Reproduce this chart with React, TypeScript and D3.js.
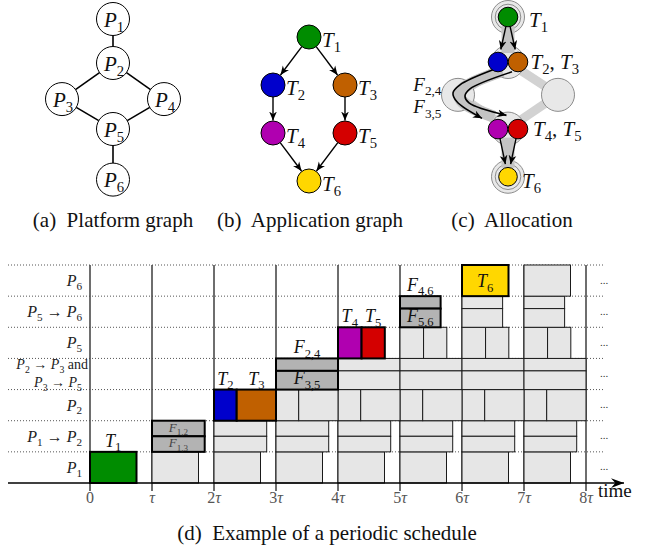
import React from "react";
import * as d3 from "d3";

const FONT = "'Liberation Serif', 'Times New Roman', 'DejaVu Serif', serif";

// ---------- (a) platform graph ----------
const PROCESSORS = ["P_1", "P_2", "P_3", "P_4", "P_5", "P_6"];
const PROC_COL = [0, 0, -1, 1, 0, 0];
const PROC_LEVEL_A = [0, 1, 1.82, 1.82, 2.5, 3.65];
const PROC_LEVEL_C = [0, 1, 1.73, 1.73, 2.48, 3.55];
const LINKS: [number, number][] = [[0, 1], [1, 2], [1, 3], [2, 4], [3, 4], [4, 5]];

// ---------- (b) application graph ----------
const TASKS = ["T_1", "T_2", "T_3", "T_4", "T_5", "T_6"];
const TASK_COL = [0, -1, 1, -1, 1, 0];
const TASK_LEVEL = [0, 1, 1, 2, 2, 3];
const DEPENDENCIES: [number, number][] = [[0, 1], [0, 2], [1, 3], [2, 4], [3, 5], [4, 5]];

// ---------- (c) allocation: processor of each task ----------
const TASK_PROC = [0, 1, 1, 4, 4, 5];
const USED_LINKS: [number, number][] = [[0, 1], [4, 5]];

// ---------- (d) periodic schedule ----------
const PERIOD_LABELS = ["0", "τ", "2τ", "3τ", "4τ", "5τ", "6τ", "7τ", "8τ"];
const LAST_PERIOD = 7;
const RESOURCES = [
  "P_1",
  "P_1 → P_2",
  "P_2",
  "P_2 → P_3 and\nP_3 → P_5",
  "P_5",
  "P_5 → P_6",
  "P_6",
];
const OPS = ["T_1", "F_{1,2}", "F_{1,3}", "T_2", "T_3", "F_{2,4}", "F_{3,5}", "T_4", "T_5", "F_{4,6}", "F_{5,6}", "T_6"];
const OP_RESOURCE = [0, 1, 1, 2, 2, 3, 3, 4, 4, 5, 5, 6];
const OP_FIRST_PERIOD = [0, 1, 1, 2, 2, 3, 3, 4, 4, 5, 5, 6];
const OP_START = [0, 0, 0, 0, 0.366, 0, 0, 0, 0.38, 0, 0, 0];
const OP_LENGTH = [0.75, 0.85, 0.85, 0.366, 0.634, 1, 1, 0.38, 0.375, 0.655, 0.655, 0.75];
const OP_SHARE = [1, 0.5, 0.5, 1, 1, 0.4, 0.6, 1, 1, 0.4, 0.6, 1];

// ---------- styles ----------
const TASK_COLOR: Record<string, string> = {
  T_1: "#008c00",
  T_2: "#0000cc",
  T_3: "#c06000",
  T_4: "#b000b0",
  T_5: "#d40000",
  T_6: "#ffd700",
};
const COMM_FILL = "#b3b3b3";
const COPY_FILL = "#e6e6e6";
const LABEL_INSIDE = new Set(["F_{1,2}", "F_{1,3}", "F_{3,5}", "F_{5,6}", "T_6"]);
const LABEL_SMALL = new Set(["F_{1,2}", "F_{1,3}"]);

type Span = { text: string; italic: boolean; sub: boolean };

function parseMath(s: string): Span[] {
  const out: Span[] = [];
  const pushRun = (run: string) => {
    const re = /([A-Za-z\u0370-\u03ff]+)|([^A-Za-z\u0370-\u03ff]+)/g;
    let m: RegExpExecArray | null;
    while ((m = re.exec(run))) {
      if (m[1]) {
        const w = m[1];
        const upright = w.length > 1 && /^[a-z]+$/.test(w);
        out.push({ text: w, italic: !upright, sub: false });
      } else out.push({ text: m[2], italic: false, sub: false });
    }
  };
  let buf = "";
  let i = 0;
  while (i < s.length) {
    const c = s[i];
    if (c === "_") {
      if (buf) {
        pushRun(buf);
        buf = "";
      }
      let sub: string;
      if (s[i + 1] === "{") {
        const j = s.indexOf("}", i);
        sub = s.slice(i + 2, j);
        i = j + 1;
      } else {
        sub = s[i + 1];
        i += 2;
      }
      out.push({ text: sub, italic: false, sub: true });
    } else {
      buf += c;
      i++;
    }
  }
  if (buf) pushRun(buf);
  return out;
}

function MathText(props: {
  s: string;
  x: number;
  y: number;
  size: number;
  anchor?: "start" | "middle" | "end";
  fill?: string;
}) {
  const { s, x, y, size, anchor = "start", fill = "#111" } = props;
  const spans = parseMath(s);
  let cur = 0;
  const drop = size * 0.24;
  return (
    <text
      x={x}
      y={y}
      fontSize={size}
      textAnchor={anchor}
      fill={fill}
      fontFamily={FONT}
      style={{ whiteSpace: "pre" }}
    >
      {spans.map((sp, k) => {
        const target = sp.sub ? drop : 0;
        const dy = target - cur;
        cur = target;
        return (
          <tspan
            key={k}
            dy={dy !== 0 ? dy : undefined}
            fontSize={sp.sub ? size * 0.7 : undefined}
            fontStyle={sp.italic ? "italic" : "normal"}
          >
            {sp.text}
          </tspan>
        );
      })}
    </text>
  );
}

function shorten(a: [number, number], b: [number, number], ra: number, rb: number) {
  const dx = b[0] - a[0];
  const dy = b[1] - a[1];
  const len = Math.hypot(dx, dy);
  const ux = dx / len;
  const uy = dy / len;
  return {
    x1: a[0] + ux * ra,
    y1: a[1] + uy * ra,
    x2: b[0] - ux * rb,
    y2: b[1] - uy * rb,
  };
}

export default function App() {
  // ----- (a) -----
  const axA = d3.scaleLinear().domain([-1, 1]).range([62, 164]);
  const ayA = d3.scaleLinear().domain([0, 1]).range([19, 63]);
  const rA = 16.5;
  const posA = PROCESSORS.map((_, i) => [axA(PROC_COL[i]), ayA(PROC_LEVEL_A[i])] as [number, number]);

  // ----- (b) -----
  const axB = d3.scaleLinear().domain([-1, 1]).range([273, 345]);
  const ayB = d3.scaleLinear().domain([0, 1]).range([37, 85]);
  const rB = 12;
  const posB = TASKS.map((_, i) => [axB(TASK_COL[i]), ayB(TASK_LEVEL[i])] as [number, number]);

  // ----- (c) -----
  const axC = d3.scaleLinear().domain([-1, 1]).range([458, 558]);
  const ayC = d3.scaleLinear().domain([0, 1]).range([17, 62]);
  const rC = 16.5;
  const rT = 9.8;
  const posC = PROCESSORS.map((_, i) => [axC(PROC_COL[i]), ayC(PROC_LEVEL_C[i])] as [number, number]);
  const taskC = TASKS.map((_, i) => {
    const p = TASK_PROC[i];
    const mates = TASK_PROC.map((q, j) => (q === p ? j : -1)).filter((j) => j >= 0);
    const k = mates.indexOf(i);
    const off = (k - (mates.length - 1) / 2) * 20;
    return [posC[p][0] + off, posC[p][1] + (p === 4 ? 0.5 : 0)] as [number, number];
  });
  const p3 = posC[2];
  const rel = (pts: [number, number][]) => pts.map(([dx, dy]) => [p3[0] + dx, p3[1] + dy] as [number, number]);
  const routeOuter = rel([[35, -25], [2, -10], [-5, -2], [-1, 7], [24, 23.5]]);
  const routeInner = rel([[54, -23], [12, -6], [7, 1], [11, 8], [48.5, 20.5]]);
  const routeMid = routeOuter.map((p, i) => [(p[0] + routeInner[i][0]) / 2, (p[1] + routeInner[i][1]) / 2] as [number, number]);
  const curve = d3.line().curve(d3.curveCatmullRom.alpha(0.5));

  // ----- (d) -----
  const x = d3.scaleLinear().domain([0, 8]).range([90, 586]);
  const rowIds = RESOURCES.map((_, i) => String(i));
  const y = d3.scaleBand().domain([...rowIds].reverse()).range([265, 483]).paddingInner(0);
  const bw = y.bandwidth();
  const shareTop: number[] = OPS.map((_, i) => {
    let t = 0;
    for (let j = 0; j < i; j++) if (OP_RESOURCE[j] === OP_RESOURCE[i] && OP_SHARE[j] < 1) t += OP_SHARE[j];
    return OP_SHARE[i] < 1 ? t : 0;
  });
  const blocks: { op: number; period: number; x0: number; x1: number; y0: number; y1: number; first: boolean }[] = [];
  OPS.forEach((_, i) => {
    for (let p = OP_FIRST_PERIOD[i]; p <= LAST_PERIOD; p++) {
      const y0 = (y(String(OP_RESOURCE[i])) as number) + bw * shareTop[i];
      blocks.push({
        op: i,
        period: p,
        x0: x(p + OP_START[i]),
        x1: x(p + OP_START[i] + OP_LENGTH[i]),
        y0,
        y1: y0 + bw * OP_SHARE[i],
        first: p === OP_FIRST_PERIOD[i],
      });
    }
  });
  const gridLines = d3.range(RESOURCES.length).map((i) => y(String(i)) as number);

  return (
    <svg
      width={645}
      height={552}
      style={{ position: "absolute", left: 0, top: 0, background: "#fff" }}
      fontFamily={FONT}
    >
      <defs>
        <marker
          id="arr"
          viewBox="-10 -5 10 10"
          refX={0}
          refY={0}
          markerWidth={9}
          markerHeight={9}
          markerUnits="userSpaceOnUse"
          orient="auto"
        >
          <path d="M0,0 L-10,-4.3 L-7,0 L-10,4.3 Z" fill="#000" />
        </marker>
        <marker
          id="axisArr"
          viewBox="-12 -5 12 10"
          refX={0}
          refY={0}
          markerWidth={13}
          markerHeight={11}
          markerUnits="userSpaceOnUse"
          orient="auto"
        >
          <path d="M0,0 L-12,-4.5 L-8,0 L-12,4.5 Z" fill="#000" />
        </marker>
      </defs>

      {/* (a) platform graph */}
      <g>
        {LINKS.map(([a, b], i) => {
          const l = shorten(posA[a], posA[b], rA, rA);
          return <line key={i} {...l} stroke="#000" strokeWidth={1.6} />;
        })}
        {PROCESSORS.map((p, i) => (
          <g key={p}>
            <circle cx={posA[i][0]} cy={posA[i][1]} r={rA} fill="#fff" stroke="#000" strokeWidth={1} />
            <MathText s={p} x={posA[i][0] + 1} y={posA[i][1] + 7.5} size={21} anchor="middle" />
          </g>
        ))}
        <text x={113} y={227} fontSize={21} textAnchor="middle" fill="#111" style={{ whiteSpace: "pre" }}>
          (a)  Platform graph
        </text>
      </g>

      {/* (b) application graph */}
      <g>
        {DEPENDENCIES.map(([a, b], i) => {
          const l = shorten(posB[a], posB[b], rB, rB + 0.5);
          return <line key={i} {...l} stroke="#000" strokeWidth={1.4} markerEnd="url(#arr)" />;
        })}
        {TASKS.map((t, i) => (
          <g key={t}>
            <circle cx={posB[i][0]} cy={posB[i][1]} r={rB} fill={TASK_COLOR[t]} stroke="#000" strokeWidth={1} />
            <MathText s={t} x={posB[i][0] + rB + 1} y={posB[i][1] + 9.5} size={21} />
          </g>
        ))}
        <text x={310} y={227} fontSize={21} textAnchor="middle" fill="#111" style={{ whiteSpace: "pre" }}>
          (b)  Application graph
        </text>
      </g>

      {/* (c) allocation */}
      <g>
        {LINKS.map(([a, b], i) => (
          <line
            key={i}
            x1={posC[a][0]}
            y1={posC[a][1]}
            x2={posC[b][0]}
            y2={posC[b][1]}
            stroke="#d2d2d2"
            strokeWidth={9}
          />
        ))}
        {PROCESSORS.map((p, i) => (
          <g key={p}>
            <circle cx={posC[i][0]} cy={posC[i][1]} r={rC} fill="#e8e8e8" stroke="#8c8c8c" strokeWidth={1} />
            {(i === 0 || i === 5) && (
              <circle cx={posC[i][0]} cy={posC[i][1]} r={12.8} fill="none" stroke="#8c8c8c" strokeWidth={1} />
            )}
          </g>
        ))}
        {USED_LINKS.map(([a, b], i) => (
          <line
            key={i}
            {...shorten(posC[a], posC[b], 9, 9)}
            stroke="#c4c4c4"
            strokeWidth={13}
          />
        ))}
        <path d={curve(routeMid) || ""} fill="none" stroke="#c4c4c4" strokeWidth={12} strokeLinejoin="round" />
        {DEPENDENCIES.filter(([a, b]) => TASK_PROC[a] !== 1 || TASK_PROC[b] !== 4).map(([a, b], i) => {
          const l = shorten(taskC[a], taskC[b], rT, rT + 3);
          return <line key={i} {...l} stroke="#000" strokeWidth={1.4} markerEnd="url(#arr)" />;
        })}
        <path d={curve(routeOuter) || ""} fill="none" stroke="#000" strokeWidth={1.6} markerEnd="url(#arr)" />
        <path d={curve(routeInner) || ""} fill="none" stroke="#000" strokeWidth={1.6} markerEnd="url(#arr)" />
        {TASKS.map((t, i) => (
          <circle
            key={t}
            cx={taskC[i][0]}
            cy={taskC[i][1]}
            r={i === 5 ? 9.3 : rT}
            fill={TASK_COLOR[t]}
            stroke="#000"
            strokeWidth={1}
          />
        ))}
        <MathText s="T_1" x={posC[0][0] + 21} y={posC[0][1] + 9.5} size={21} />
        <MathText s="T_2, T_3" x={posC[1][0] + 22.5} y={posC[1][1] + 6.5} size={21} />
        <MathText s="T_4, T_5" x={posC[4][0] + 25} y={posC[4][1] + 7.5} size={21} />
        <MathText s="T_6" x={posC[5][0] + 14} y={posC[5][1] + 11} size={21} />
        <MathText s="F_{2,4}" x={posC[2][0] - rC} y={posC[2][1] - 4} size={19} anchor="end" />
        <MathText s="F_{3,5}" x={posC[2][0] - rC} y={posC[2][1] + 18.5} size={19} anchor="end" />
        <text x={512} y={227} fontSize={21} textAnchor="middle" fill="#111" style={{ whiteSpace: "pre" }}>
          (c)  Allocation
        </text>
      </g>

      {/* (d) periodic schedule */}
      <g>
        {gridLines.map((gy, i) => (
          <line key={i} x1={8} x2={604} y1={gy} y2={gy} stroke="#555" strokeWidth={1} strokeDasharray="1 2" />
        ))}
        {PERIOD_LABELS.map((lab, k) => (
          <line key={lab} x1={x(k)} x2={x(k)} y1={265} y2={491} stroke="#4a4a4a" strokeWidth={1.6} />
        ))}
        {blocks
          .filter((b) => !b.first)
          .map((b, i) => (
            <rect
              key={"c" + i}
              x={b.x0}
              y={b.y0}
              width={b.x1 - b.x0}
              height={b.y1 - b.y0}
              fill={COPY_FILL}
              stroke="#1a1a1a"
              strokeWidth={1}
            />
          ))}
        {blocks
          .filter((b) => b.first)
          .map((b, i) => {
            const name = OPS[b.op];
            return (
              <rect
                key={"f" + i}
                x={b.x0}
                y={b.y0}
                width={b.x1 - b.x0}
                height={b.y1 - b.y0}
                fill={TASK_COLOR[name] || COMM_FILL}
                stroke="#000"
                strokeWidth={2}
              />
            );
          })}
        {blocks
          .filter((b) => b.first)
          .map((b, i) => {
            const name = OPS[b.op];
            const cx = (b.x0 + b.x1) / 2;
            const h = b.y1 - b.y0;
            const inside = LABEL_INSIDE.has(name);
            const small = LABEL_SMALL.has(name);
            const ly = inside ? b.y1 - Math.max(4, h * 0.28) : b.y0 - 5;
            return (
              <MathText
                key={"l" + i}
                s={name}
                x={cx}
                y={ly}
                size={small ? 13 : 18}
                anchor="middle"
                fill={small ? "#444" : "#111"}
              />
            );
          })}
        {/* axis */}
        <line x1={8} x2={624} y1={483} y2={483} stroke="#000" strokeWidth={1.6} markerEnd="url(#axisArr)" />
        {PERIOD_LABELS.map((lab, k) => (
          <MathText key={lab} s={lab} x={x(k)} y={503} size={16} anchor="middle" fill="#555" />
        ))}
        <text x={598} y={497} fontSize={19} fill="#111">
          time
        </text>
        {RESOURCES.map((r, i) => {
          const top = y(String(i)) as number;
          const lines = r.split("\n");
          if (lines.length === 1)
            return <MathText key={i} s={r} x={82} y={top + bw / 2 + 5.5} size={16} anchor="end" fill="#222" />;
          return (
            <g key={i}>
              <MathText s={lines[0]} x={88} y={top + 11} size={14} anchor="end" fill="#222" />
              <MathText s={lines[1]} x={82} y={top + 29} size={14} anchor="end" fill="#222" />
            </g>
          );
        })}
        {RESOURCES.map((_, i) => (
          <text key={i} x={604} y={(y(String(i)) as number) + bw / 2 + 3} fontSize={11} fill="#333" textAnchor="middle">
            ...
          </text>
        ))}
        <text x={327} y={540} fontSize={21} textAnchor="middle" fill="#111" style={{ whiteSpace: "pre" }}>
          (d)  Example of a periodic schedule
        </text>
      </g>
    </svg>
  );
}
